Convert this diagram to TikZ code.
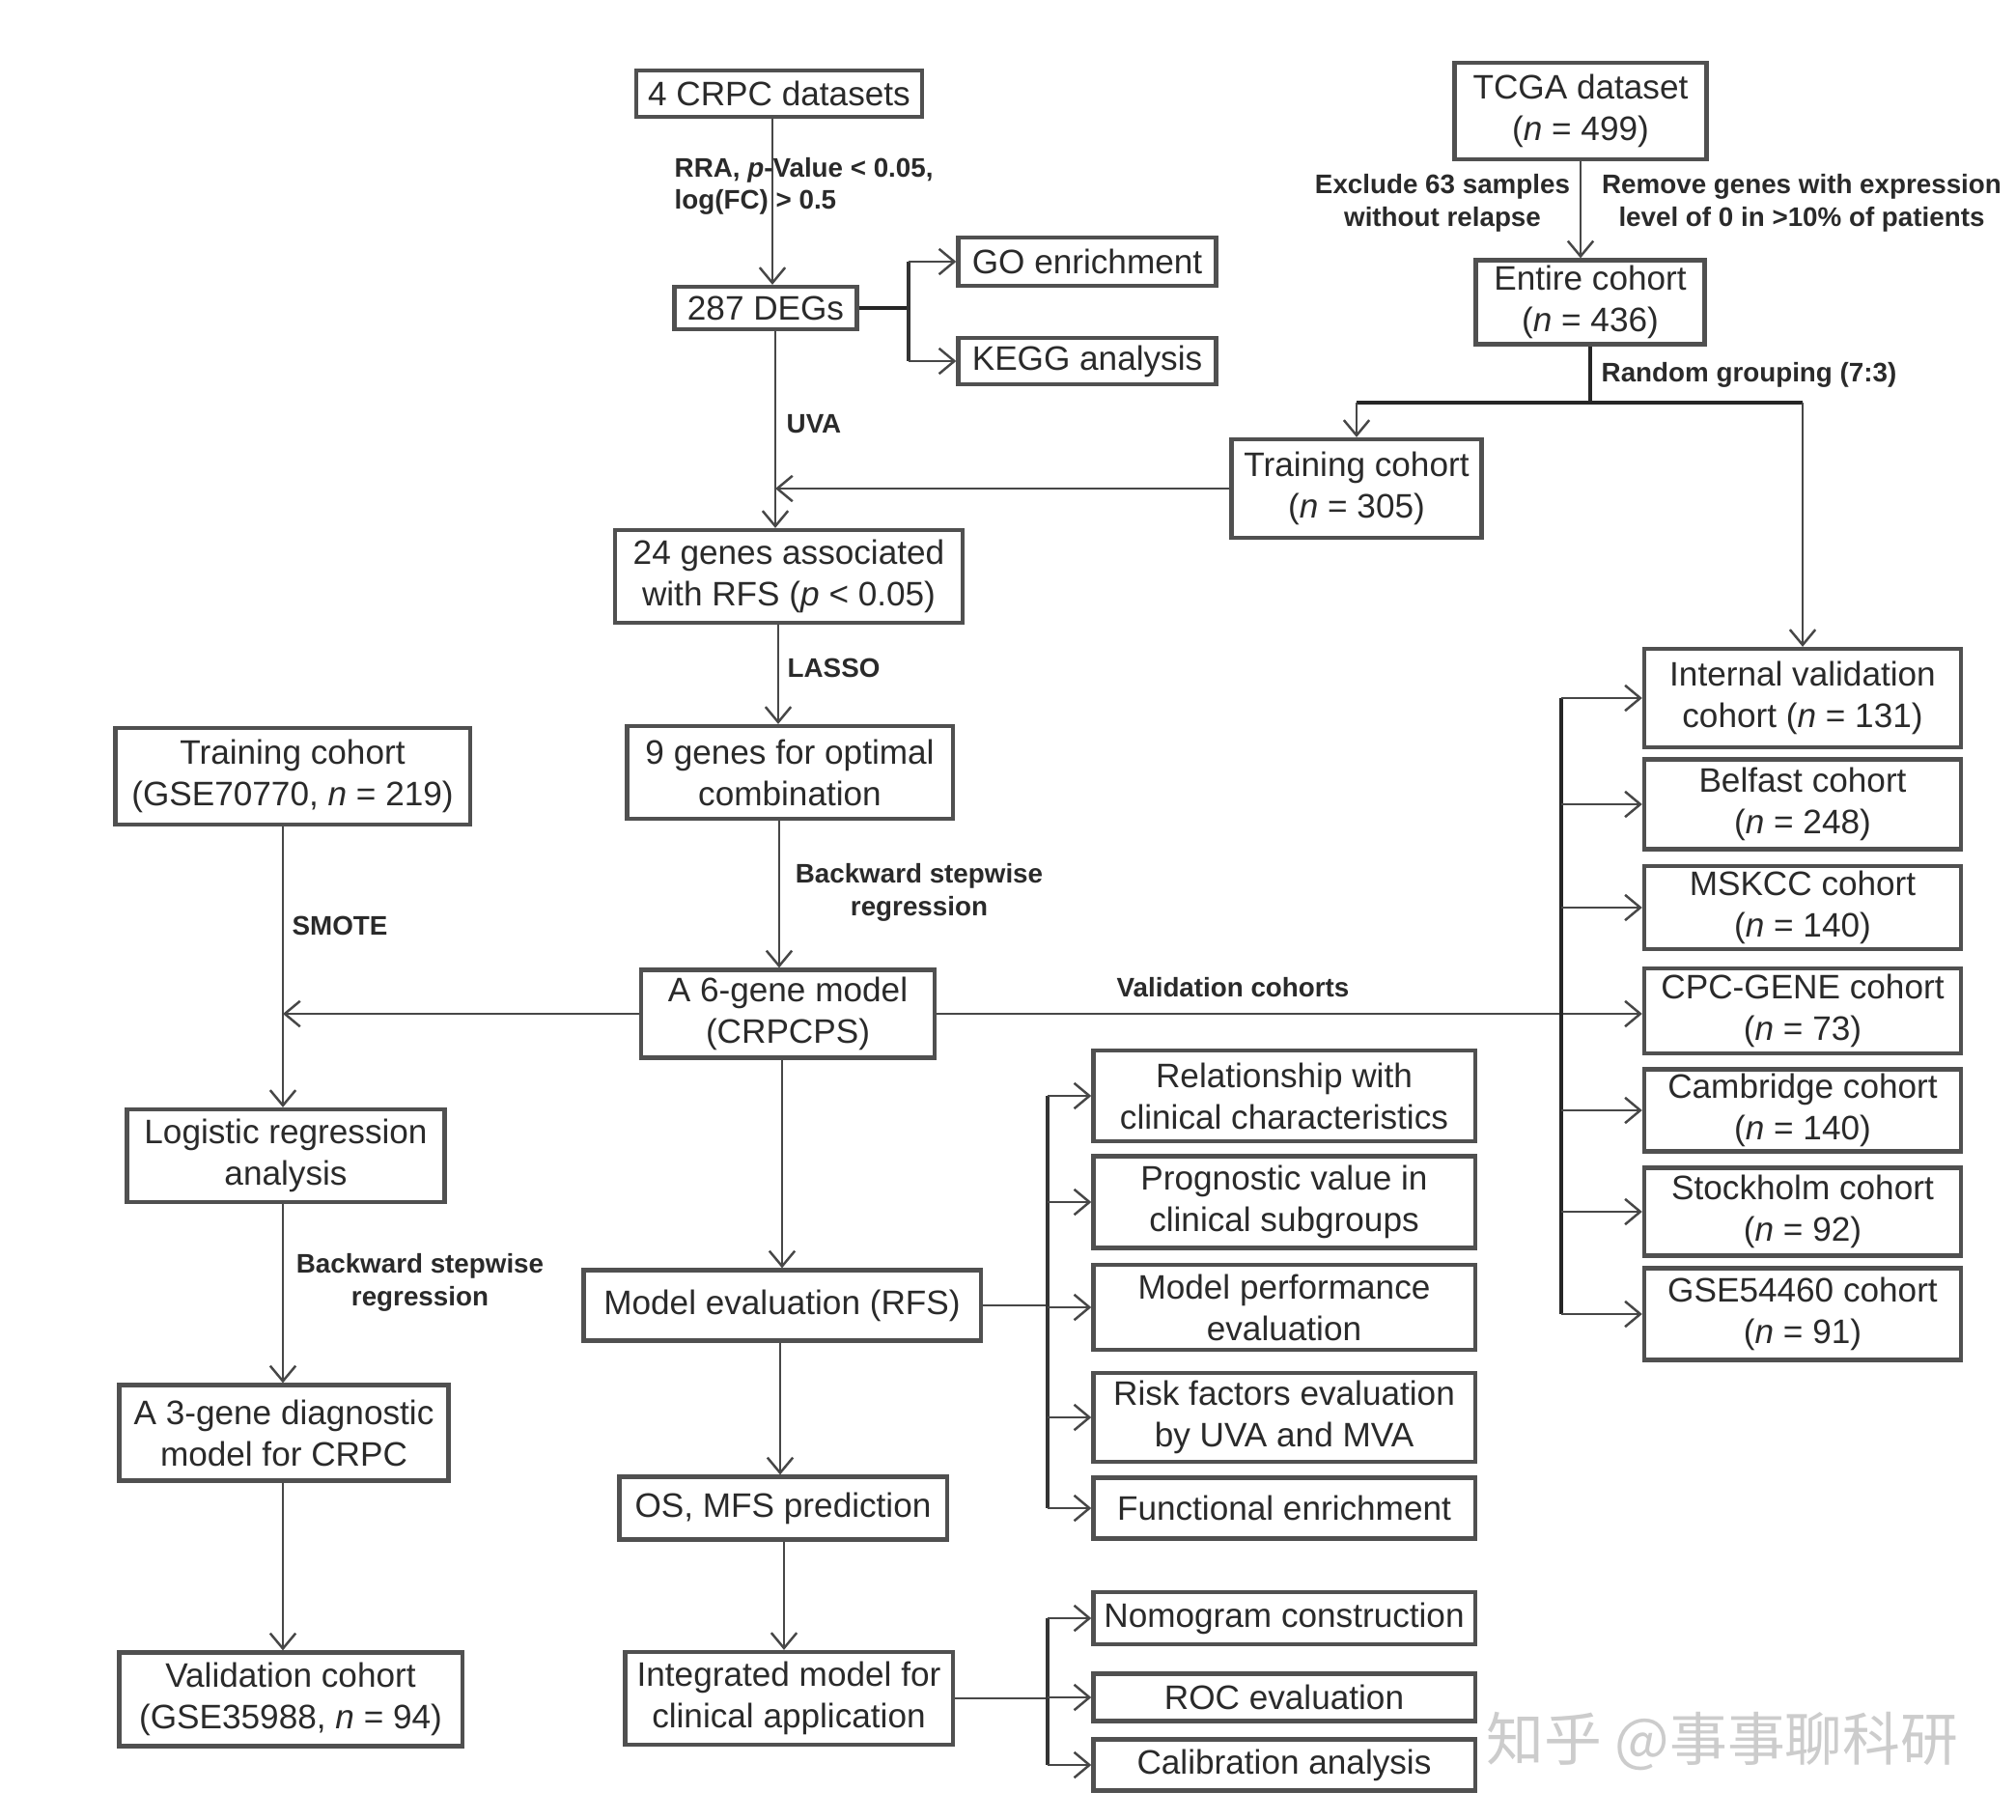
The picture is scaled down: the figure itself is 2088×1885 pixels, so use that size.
\documentclass[tikz,border=0pt]{standalone}
\usepackage{fontspec}
\setmainfont{Liberation Sans}
\newfontfamily\cjkfont{Noto Sans CJK SC}
\usetikzlibrary{arrows.meta}
\definecolor{boxc}{HTML}{505050}
\definecolor{txt}{HTML}{2A2A2A}
\definecolor{lnc}{HTML}{474747}
\begin{document}
\begin{tikzpicture}[x=0.01cm,y=-0.01cm,
  box/.style={draw=boxc, line width=1.2pt, fill=white, text=txt, align=center, inner sep=0pt,
    font=\fontsize{10}{12.2}\selectfont},
  lbl/.style={text=txt, font=\bfseries\fontsize{7.9}{9.6}\selectfont, inner sep=0pt},
  conn/.style={draw=lnc, line width=0.7pt, -{Straight Barb[length=4.5pt,width=7.5pt,line width=0.7pt]}},
  plain/.style={draw=lnc, line width=0.7pt},
  thk/.style={draw=black!85, line width=1.3pt},
  mid/.style={draw=black!80, line width=1.0pt}
]
\useasboundingbox (0,0) rectangle (2088,1885);
\fill[white] (0,0) rectangle (2088,1885);

% ---------- boxes ----------
\node[box, minimum width=2.96cm, minimum height=0.48cm] (crpc) at (807,97) {4 CRPC datasets};
\node[box, minimum width=1.89cm, minimum height=0.44cm] (degs) at (793,319) {287 DEGs};
\node[box, minimum width=2.67cm, minimum height=0.50cm] (go) at (1126,271) {GO enrichment};
\node[box, minimum width=2.67cm, minimum height=0.48cm] (kegg) at (1126,374) {KEGG analysis};
\node[box, minimum width=2.61cm, minimum height=1.00cm] (tcga) at (1637,115) {TCGA dataset\\(\textit{n} = 499)};
\node[box, minimum width=2.37cm, minimum height=0.87cm] (entire) at (1647,313) {Entire cohort\\(\textit{n} = 436)};
\node[box, minimum width=2.59cm, minimum height=1.02cm] (train) at (1405,506) {Training cohort\\(\textit{n} = 305)};
\node[box, minimum width=3.60cm, minimum height=0.96cm] (g24) at (817,597) {24 genes associated\\with RFS (\textit{p} < 0.05)};
\node[box, minimum width=3.37cm, minimum height=0.96cm] (g9) at (818,800) {9 genes for optimal\\combination};
\node[box, minimum width=3.67cm, minimum height=1.00cm] (tr2) at (303,804) {Training cohort\\(GSE70770, \textit{n} = 219)};
\node[box, minimum width=3.04cm, minimum height=0.91cm] (m6) at (816,1050) {A 6-gene model\\(CRPCPS)};
\node[box, minimum width=3.29cm, minimum height=0.96cm] (logit) at (296,1197) {Logistic regression\\analysis};
\node[box, minimum width=4.11cm, minimum height=0.73cm] (meval) at (810,1352) {Model evaluation (RFS)};
\node[box, minimum width=3.41cm, minimum height=0.99cm] (g3) at (294,1484) {A 3-gene diagnostic\\model for CRPC};
\node[box, minimum width=3.39cm, minimum height=0.65cm] (osmfs) at (811,1562) {OS, MFS prediction};
\node[box, minimum width=3.55cm, minimum height=0.97cm] (val2) at (301,1760) {Validation cohort\\(GSE35988, \textit{n} = 94)};
\node[box, minimum width=3.39cm, minimum height=0.96cm] (integ) at (817,1759) {Integrated model for\\clinical application};

% right column
\node[box, minimum width=3.28cm, minimum height=1.02cm] (iv) at (1867,723) {Internal validation\\cohort (\textit{n} = 131)};
\node[box, minimum width=3.28cm, minimum height=0.93cm] (belfast) at (1867,833) {Belfast cohort\\(\textit{n} = 248)};
\node[box, minimum width=3.28cm, minimum height=0.86cm] (mskcc) at (1867,940) {MSKCC cohort\\(\textit{n} = 140)};
\node[box, minimum width=3.28cm, minimum height=0.88cm] (cpc) at (1867,1047) {CPC-GENE cohort\\(\textit{n} = 73)};
\node[box, minimum width=3.28cm, minimum height=0.85cm] (camb) at (1867,1150) {Cambridge cohort\\(\textit{n} = 140)};
\node[box, minimum width=3.28cm, minimum height=0.91cm] (stock) at (1867,1255) {Stockholm cohort\\(\textit{n} = 92)};
\node[box, minimum width=3.28cm, minimum height=0.95cm] (gse54) at (1867,1361) {GSE54460 cohort\\(\textit{n} = 91)};

% middle-right column
\node[box, minimum width=3.95cm, minimum height=0.94cm] (rel) at (1330,1135) {Relationship with\\clinical characteristics};
\node[box, minimum width=3.95cm, minimum height=0.95cm] (prog) at (1330,1245) {Prognostic value in\\clinical subgroups};
\node[box, minimum width=3.95cm, minimum height=0.88cm] (mperf) at (1330,1354) {Model performance\\evaluation};
\node[box, minimum width=3.95cm, minimum height=0.92cm] (risk) at (1330,1468) {Risk factors evaluation\\by UVA and MVA};
\node[box, minimum width=3.95cm, minimum height=0.63cm] (func) at (1330,1562) {Functional enrichment};
\node[box, minimum width=3.95cm, minimum height=0.54cm] (nomo) at (1330,1676) {Nomogram construction};
\node[box, minimum width=3.95cm, minimum height=0.49cm] (roc) at (1330,1758) {ROC evaluation};
\node[box, minimum width=3.95cm, minimum height=0.53cm] (calib) at (1330,1828) {Calibration analysis};

% ---------- helper coordinates ----------
\coordinate (br) at (941,319);
\coordinate (sp) at (0,417);
\coordinate (lsp) at (293,0);
\coordinate (rb) at (1617,0);
\coordinate (mb) at (1085,0);
\coordinate (s1) at (800,0);
\coordinate (s2) at (803,0);
\coordinate (s3) at (806,0);
\coordinate (s4) at (807,0);
\coordinate (s5) at (810,0);
\coordinate (s6) at (808,0);
\coordinate (s7) at (812,0);

% ---------- connectors ----------
\draw[conn] (s1 |- crpc.south) -- (s1 |- degs.north);
\draw[thk] (degs.east) -- (br);
\draw[mid] (br |- go.west) -- (br |- kegg.west);
\draw[conn] (br |- go.west) -- (go.west);
\draw[conn] (br |- kegg.west) -- (kegg.west);
\draw[conn] (s2 |- degs.south) -- (s2 |- g24.north);
\draw[conn] (train.west) -- (train.west -| s2);

\draw[conn] (tcga.south) -- (tcga.south |- entire.north);
\draw[thk] (entire.south) -- (entire.south |- sp);
\draw[thk] (train.north |- sp) -- (iv.north |- sp);
\draw[conn] (train.north |- sp) -- (train.north);
\draw[conn] (iv.north |- sp) -- (iv.north);

\draw[conn] (s3 |- g24.south) -- (s3 |- g9.north);
\draw[conn] (s4 |- g9.south) -- (s4 |- m6.north);
\draw[conn] (s5 |- m6.south) -- (s5 |- meval.north);
\draw[conn] (s6 |- meval.south) -- (s6 |- osmfs.north);
\draw[conn] (s7 |- osmfs.south) -- (s7 |- integ.north);

% left column
\draw[conn] (lsp |- tr2.south) -- (lsp |- logit.north);
\draw[conn] (m6.west) -- (m6.west -| lsp);
\draw[conn] (lsp |- logit.south) -- (lsp |- g3.north);
\draw[conn] (lsp |- g3.south) -- (lsp |- val2.north);

% validation cohorts
\draw[conn] (m6.east) -- (m6.east -| cpc.west);
\draw[thk] (rb |- iv.west) -- (rb |- gse54.west);
\foreach \n in {iv,belfast,mskcc,camb,stock,gse54}{
  \draw[conn] (rb |- \n.west) -- (\n.west);
}

% model evaluation branches
\draw[plain] (meval.east) -- (meval.east -| mb);
\draw[mid] (mb |- rel.west) -- (mb |- func.west);
\foreach \n in {rel,prog,mperf,risk,func}{
  \draw[conn] (mb |- \n.west) -- (\n.west);
}
\draw[plain] (integ.east) -- (integ.east -| mb);
\draw[mid] (mb |- nomo.west) -- (mb |- calib.west);
\foreach \n in {nomo,roc,calib}{
  \draw[conn] (mb |- \n.west) -- (\n.west);
}

% ---------- labels ----------
\node[lbl, anchor=west, align=left] (l1) at (698,193) {RRA, \textit{p}-Value < 0.05,\\log(FC) > 0.5};
\node[lbl, anchor=west] (l2) at (814,439) {UVA};
\node[lbl, anchor=west] (l3) at (815,692) {LASSO};
\node[lbl, align=center] (l4) at (952,924) {Backward stepwise\\regression};
\node[lbl, anchor=west] (l5) at (302,959) {SMOTE};
\node[lbl, align=center] (l6) at (435,1328) {Backward stepwise\\regression};
\node[lbl] (l7) at (1277,1023) {Validation cohorts};
\node[lbl, align=center] (l8) at (1494,210) {Exclude 63 samples\\without relapse};
\node[lbl, align=center] (l9) at (1866,210) {Remove genes with expression\\level of 0 in >10\% of patients};
\node[lbl, anchor=west] (l10) at (1658,388) {Random grouping (7:3)};

% watermark
\node[text=gray!40, font=\cjkfont\fontsize{17}{20}\selectfont, inner sep=0pt] (wm) at (1784,1804) {知乎 @事事聊科研};
\end{tikzpicture}
\end{document}
